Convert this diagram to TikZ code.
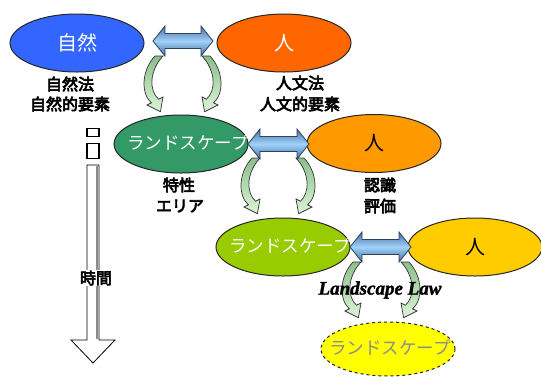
\documentclass[tikz,border=0pt]{standalone}
\usepackage{fontspec}
\usetikzlibrary{shapes.geometric}
\newfontfamily\jp{Noto Sans CJK JP}
\newfontfamily\jpb{Noto Sans CJK JP}[FakeBold=4]
\newfontfamily\tms{Liberation Serif}[FakeBold=1.5]
\definecolor{cblue}{RGB}{51,102,255}
\definecolor{cred}{RGB}{255,102,0}
\definecolor{cgreen}{RGB}{51,153,102}
\definecolor{corange}{RGB}{255,153,0}
\definecolor{clime}{RGB}{153,204,0}
\definecolor{cgold}{RGB}{255,204,0}
\definecolor{cyel}{RGB}{255,255,0}
\definecolor{arrdark}{RGB}{70,110,160}
\definecolor{arrlight}{RGB}{160,210,250}
\definecolor{arrline}{RGB}{45,65,95}
\definecolor{gtop}{RGB}{140,190,140}
\definecolor{gbot}{RGB}{220,245,215}
\tikzset{
  ellbox/.style={ellipse, draw=black!85, line width=1pt, minimum width=134pt, minimum height=58pt, inner sep=0pt},
  etext/.style={font=\jp\fontsize{20}{22}\selectfont, inner sep=0pt},
  ltext/.style={font=\jp\fontsize{17.5}{19}\selectfont, inner sep=0pt},
  lab/.style={font=\jpb\fontsize{16}{18}\selectfont, inner sep=0pt, align=center},
  dbl/.style={draw=arrline, line width=0.8pt, top color=arrdark, bottom color=arrdark, middle color=arrlight},
  cfill/.style={draw=black!80, line width=0.7pt, top color=gtop, bottom color=gbot},
  carrow/.pic={\path[cfill] (-4,0) .. controls (-18,15) and (-18,38) .. (-7.6,46.8) -- (-12,49) -- (1.4,55.7) -- (4,41) -- (-0.4,43.2) .. controls (-10,35) and (-10,15) .. (4,0) -- cycle;},
  timearr/.style={draw=black, line width=0.8pt, fill=white}
}
\begin{document}
\begin{tikzpicture}[x=1pt,y=-1pt]
\useasboundingbox (0,0) rectangle (541,376);
% time arrow
\path[timearr] (87,165) -- (99,165) -- (99,340) -- (115,340) -- (93,363) -- (71,340) -- (87,340) -- cycle;
\draw[black!45, line width=2pt] (97,166) -- (97,339);
\node[draw, line width=1.2pt, minimum width=12pt, minimum height=8pt, inner sep=0pt] (b1) at (93,132.5) {};
\node[draw, line width=1.2pt, minimum width=12pt, minimum height=15pt, inner sep=0pt] (b2) at (93,151) {};
\node[lab, fill=white, inner sep=1pt] (time) at (96,278) {時間};
% curved arrows
\pic at (159,56) {carrow};
\pic[xscale=-1] at (206,56) {carrow};
\pic at (256,158) {carrow};
\pic[xscale=-1] at (300,158) {carrow};
\pic at (357,262) {carrow};
\pic[xscale=-1] at (405,262) {carrow};
% ellipses
\node[ellbox, fill=cblue] (nature) at (77,43) {};
\node[etext, text=white] at (nature) {自然};
\node[ellbox, fill=cred] (hum1) at (284,43) {};
\node[etext, text=white] at (hum1) {人};
\node[ellbox, fill=cgreen] (land1) at (181,144) {};
\node[ltext, text=white] at (188,143) {ランドスケープ};
\node[ellbox, fill=corange] (hum2) at (374,143.5) {};
\node[etext, text=black] at (hum2) {人};
\node[ellbox, fill=clime] (land2) at (283,247) {};
\node[ltext, text=white] at (290,246) {ランドスケープ};
\node[ellbox, fill=cgold] (hum3) at (475,247) {};
\node[etext, text=black] at (hum3) {人};
\node[ellbox, fill=cyel, dashed, minimum height=54pt] (land3) at (388,349) {};
\node[ltext, text=black!45] at (390,348) {ランドスケープ};
% double arrows
\foreach \xa/\xb/\yy in {153/213/41, 248/309/144, 350/411/247}{
  \path[dbl] (\xa,\yy) -- ++(12,-15) -- ++(0,7.5) -- (\xb-12,\yy-7.5) -- ++(0,-7.5) -- (\xb,\yy) -- ++(-12,15) -- ++(0,-7.5) -- (\xa+12,\yy+7.5) -- ++(0,7.5) -- cycle;
}
% labels
\node[lab] (l1a) at (70,84) {自然法};
\node[lab] (l1b) at (70,104) {自然的要素};
\node[lab] (l2a) at (300,83) {人文法};
\node[lab] (l2b) at (300,104) {人文的要素};
\node[lab] (l3a) at (179,185) {特性};
\node[lab] (l3b) at (180,206) {エリア};
\node[lab] (l4a) at (380,185) {認識};
\node[lab] (l4b) at (380,206) {評価};
\node[font=\tms\bfseries\itshape\fontsize{19}{21}\selectfont, inner sep=0pt] (law) at (380,290) {Landscape Law};
\end{tikzpicture}
\end{document}
